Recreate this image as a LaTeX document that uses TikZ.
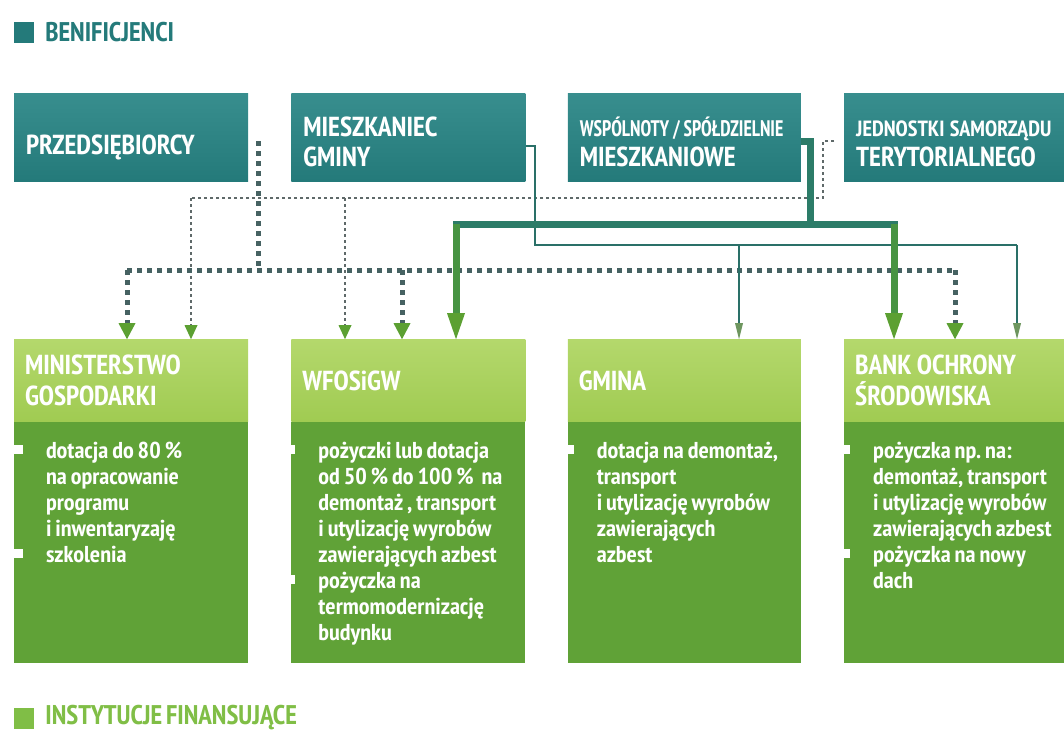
\documentclass[tikz,border=0pt]{standalone}
\usepackage{fontspec}
\setmainfont{PT Sans Narrow}[WordSpace=0.7]
\newfontfamily\waski{PT Sans Narrow}[FakeStretch=0.86, WordSpace=0.6]
\newfontfamily\tekst{PT Sans Narrow}[FakeStretch=1.05, WordSpace=0.8]
\usepackage{tikz}
\usetikzlibrary{arrows.meta, positioning, calc}

\definecolor{morski}{RGB}{36,122,122}
\definecolor{morskijasny}{RGB}{56,142,142}
\definecolor{seledyn}{RGB}{160,203,82}
\definecolor{seledynjasny}{RGB}{180,216,108}
\definecolor{zielen}{RGB}{96,162,55}
\definecolor{legendazielona}{RGB}{128,190,70}
\definecolor{grot}{RGB}{92,160,50}
\definecolor{grotszary}{RGB}{110,150,95}
\definecolor{kropka}{RGB}{70,98,98}
\definecolor{szary}{RGB}{95,105,105}
\definecolor{liniamorska}{RGB}{42,112,104}
\definecolor{liniagrubakol}{RGB}{44,124,104}
\definecolor{liniazielona}{RGB}{72,148,66}

\newcommand{\punkt}{\leavevmode\llap{\textcolor{white}{\rule[4pt]{10pt}{9pt}}\hspace{23pt}}}
\frenchspacing

\begin{document}
\begin{tikzpicture} [x=1pt, y=-1pt, node distance=43pt, font=\bfseries,
		beneficjent/.style={rectangle, top color=morskijasny, bottom color=morski, text=white, minimum height=88pt,
		inner xsep=12pt, align=left, text height=29pt, font=\bfseries\fontsize{27.5}{30}\selectfont,
		execute at begin node={\spaceskip=0.19em\relax}},
		naglowek/.style={rectangle, top color=seledynjasny, bottom color=seledyn, text=white, minimum height=82pt,
		inner xsep=11pt, align=left, font=\bfseries\fontsize{27.5}{31}\selectfont,
		execute at begin node={\spaceskip=0.19em\relax}},
		tresc/.style={rectangle, fill=zielen, minimum height=241pt, inner sep=0pt},
		lista/.style={inner sep=0pt, text=white, align=left, font=\tekst\bfseries\fontsize{23}{26}\selectfont},
		kwadrat/.style={rectangle, minimum width=20pt, minimum height=21pt, inner sep=0pt},
		legenda/.style={inner sep=0pt, font=\bfseries\fontsize{27}{30}\selectfont},
		kropgruby/.style={kropka, line width=5pt, dash pattern=on 5pt off 5pt},
		kropcienki/.style={szary, line width=1.6pt, dash pattern=on 3pt off 3pt},
		liniacienka/.style={liniamorska, line width=1.6pt},
		liniagruba/.style={liniagrubakol, line width=7pt},
		grotgruby/.style={-{Triangle[length=16pt, width=17pt, line width=0pt, color=grot]}},
		grotduzy/.style={-{Triangle[length=26pt, width=18pt, line width=0pt, color=grot]}},
		grotcienki/.style={-{Triangle[length=14pt, width=13pt, line width=0pt, color=grot]}},
		grotmaly/.style={-{Triangle[length=16pt, width=8pt, line width=0pt, color=grotszary]}}]
		\useasboundingbox (0,0) rectangle (1064,731);

		% Legend
		\node (kw1) [kwadrat, fill=morski] at (24,32) {};
		\node (kw1t) [legenda, text=morski, right=11pt of kw1] {BENIFICJENCI};
		\node (kw2) [kwadrat, fill=legendazielona] at (24,718) {};
		\node (kw2t) [legenda, text=legendazielona, right=11pt of kw2] {INSTYTUCJE FINANSUJĄCE};

		% Top row : beneficiaries
		\node (prz) [beneficjent, text width=210pt, text height=35pt, text depth=0pt] at (131,137) {PRZEDSIĘBIORCY};
		\node (mie) [beneficjent, text width=210pt, right=of prz] {MIESZKANIEC\\GMINY};
		\node (wsp) [beneficjent, text width=209pt, right=42pt of mie]
		{{\waski\fontsize{22.5}{22}\selectfont\spaceskip=0.17em WSPÓLNOTY / SPÓŁDZIELNIE}\\MIESZKANIOWE};
		\node (jed) [beneficjent, text width=197pt, right=of wsp]
		{{\fontsize{22}{24}\selectfont JEDNOSTKI SAMORZĄDU}\\TERYTORIALNEGO};

		% Bottom row : institutions
		\node (minh) [naglowek, text width=212pt, below=158pt of prz] {MINISTERSTWO\\GOSPODARKI};
		\node (wfoh) [naglowek, text width=212pt, below=158pt of mie] {WFOSiGW};
		\node (gmih) [naglowek, text width=211pt, below=158pt of wsp] {GMINA};
		\node (bosh) [naglowek, text width=199pt, below=158pt of jed] {BANK OCHRONY\\ŚRODOWISKA};

		\node (minb) [tresc, minimum width=234pt, below=0pt of minh] {};
		\node (wfob) [tresc, minimum width=234pt, below=0pt of wfoh] {};
		\node (gmib) [tresc, minimum width=233pt, below=0pt of gmih] {};
		\node (bosb) [tresc, minimum width=221pt, below=0pt of bosh] {};

		\node (minl) [lista, below right=20pt and 32pt of minb.north west]
		{\punkt dotacja do 80 \%\\na opracowanie\\programu\\i inwentaryzaję\\\punkt szkolenia};
		\node (wfol) [lista, below right=20pt and 27pt of wfob.north west]
		{\punkt pożyczki lub dotacja\\od 50 \% do 100 \%\ \ na\\demontaż , transport\\i utylizację wyrobów\\zawierających azbest\\
		\punkt pożyczka na\\termomodernizację\\budynku};
		\node (gmil) [lista, below right=20pt and 29pt of gmib.north west]
		{\punkt dotacja na demontaż,\\transport\\i utylizację wyrobów\\zawierających\\azbest};
		\node (bosl) [lista, below right=20pt and 29pt of bosb.north west]
		{\punkt pożyczka np. na:\\demontaż, transport\\i utylizację wyrobów\\zawierających azbest\\\punkt pożyczka na nowy\\dach};

		% Rails
		\coordinate (pA) at ($(prz.east)+(10,4)$);
		\coordinate (a1) at (127,270);
		\coordinate (a2) at (402,270);
		\coordinate (a3) at (955,270);
		\coordinate (pB) at ($(jed.west)+(-10,4)$);
		\coordinate (b0) at (823,198);
		\coordinate (b1) at (191,198);
		\coordinate (b2) at (345,198);
		\coordinate (c0) at (535,245);
		\coordinate (c1) at (739,245);
		\coordinate (c2) at (1017,245);
		\coordinate (d0) at (810,224);
		\coordinate (d1) at (456,224);
		\coordinate (d2) at (894,224);

		% Draw Arrows/Connections
		\draw [kropcienki] (pB) -- (pB -| b0) -- (b0) -- (b1);
		\draw [kropcienki, grotcienki] (b1) -- (b1 |- minh.north);
		\draw [kropcienki, grotcienki] (b2) -- (b2 |- wfoh.north);

		\draw [kropgruby] (pA) -- (pA |- a1);
		\draw [kropgruby] (a1) -- (a3);
		\draw [kropgruby, grotgruby] (a1) -- (a1 |- minh.north);
		\draw [kropgruby, grotgruby] (a2) -- (a2 |- wfoh.north);
		\draw [kropgruby, grotgruby] (a3) -- (a3 |- bosh.north);

		\draw [liniacienka] ($(mie.east)+(0,9)$) -| (c0) -- (c2);
		\draw [liniacienka, grotmaly] (c1) -- (c1 |- gmih.north);
		\draw [liniacienka, grotmaly] (c2) -- (c2 |- bosh.north);

		\draw [liniagruba] ($(wsp.east)+(0,4)$) -| (d0);
		\draw [liniagruba, line cap=rect] (d1) -- (d2);
		\draw [liniagruba, liniazielona, grotduzy] (d1) -- (d1 |- wfoh.north);
		\draw [liniagruba, liniazielona, grotduzy] (d2) -- (d2 |- bosh.north);
	\end{tikzpicture}
\end{document}
